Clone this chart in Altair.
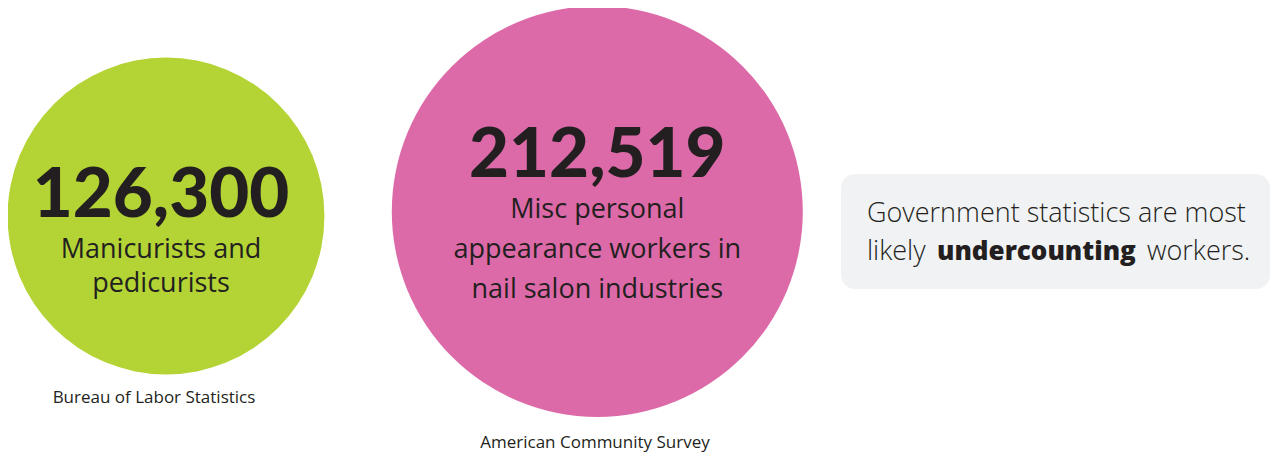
import altair as alt
import pandas as pd

# ---- data ----
sources = ["Bureau of Labor Statistics", "American Community Survey"]
values = [126300, 212519]
descriptions = [
    ["Manicurists and", "pedicurists"],
    ["Misc personal", "appearance workers in", "nail salon industries"],
]
note_line1 = "Government statistics are most"
note_line2 = ["likely", "undercounting", "workers."]

# ---- layout / styles (page pixel coordinates) ----
colors = ["#b4d334", "#dd6aa8"]
ink = "#231f20"
cx = [166.0, 597.3]
cy = [216.0, 211.5]
text_x = [161.0, 597.3]
num_base = [217, 177]
desc_base = [[258, 292], [218, 258, 298]]
desc_size = [27, 27]
src_base = [403, 448]
src_x = [154, 595]
max_radius = 205.5
W, H = 1263, 448

xs = alt.Scale(domain=[8, 8 + W], range=[0, W], nice=False, zero=False)
ys = alt.Scale(domain=[8, 8 + H], range=[0, H], nice=False, zero=False)

circles = pd.DataFrame({"source": sources, "value": values, "cx": cx, "cy": cy})
nums = pd.DataFrame({"source": sources, "value": values, "cx": text_x, "y": num_base})
desc_rows = []
for i, lines in enumerate(descriptions):
    for j, t in enumerate(lines):
        desc_rows.append({"text": t, "cx": text_x[i], "y": desc_base[i][j], "fs": desc_size[i]})
desc = pd.DataFrame(desc_rows)
srcs = pd.DataFrame({"source": sources, "x": src_x, "y": src_base})

# Vega circle symbol: radius = sqrt(size) / 2, so area-proportional size range ends at (2r)^2
circle_layer = alt.Chart(circles).mark_circle(opacity=1).encode(
    x=alt.X("cx:Q", scale=xs, axis=None),
    y=alt.Y("cy:Q", scale=ys, axis=None),
    size=alt.Size("value:Q", scale=alt.Scale(type="linear", domain=[0, max(values)],
                                              range=[0, (2 * max_radius) ** 2]), legend=None),
    color=alt.Color("source:N", scale=alt.Scale(domain=sources, range=colors), legend=None),
)

num_layer = alt.Chart(nums).mark_text(
    font="Lato", fontWeight=900, fontSize=69, color=ink, align="center", baseline="alphabetic"
).encode(
    x=alt.X("cx:Q", scale=xs, axis=None),
    y=alt.Y("y:Q", scale=ys, axis=None),
    text=alt.Text("value:Q", format=","),
)

desc_layer = alt.Chart(desc).mark_text(
    font="Open Sans", fontWeight=500, color=ink, align="center", baseline="alphabetic"
).encode(
    x=alt.X("cx:Q", scale=xs, axis=None),
    y=alt.Y("y:Q", scale=ys, axis=None),
    text="text:N",
    size=alt.Size("fs:Q", scale=None, legend=None),
)

src_layer = alt.Chart(srcs).mark_text(
    font="Open Sans", fontWeight=400, fontSize=17, color=ink, align="center", baseline="alphabetic"
).encode(
    x=alt.X("x:Q", scale=xs, axis=None),
    y=alt.Y("y:Q", scale=ys, axis=None),
    text="source:N",
)

box = pd.DataFrame({"x0": [841], "x1": [1270], "y0": [174], "y1": [289]})
box_layer = alt.Chart(box).mark_rect(color="#f1f2f4", cornerRadius=14).encode(
    x=alt.X("x0:Q", scale=xs, axis=None), x2="x1:Q",
    y=alt.Y("y0:Q", scale=ys, axis=None), y2="y1:Q",
)

note_plain = pd.DataFrame({
    "text": [note_line1, note_line2[0], note_line2[2]],
    "x": [867, 867, 1147],
    "y": [222, 260, 260],
})
note_bold = pd.DataFrame({"text": [note_line2[1]], "x": [937], "y": [260]})

note_layer = alt.Chart(note_plain).mark_text(
    font="Open Sans", fontSize=27, fontWeight=300, color=ink, align="left", baseline="alphabetic"
).encode(
    x=alt.X("x:Q", scale=xs, axis=None),
    y=alt.Y("y:Q", scale=ys, axis=None),
    text="text:N",
)
note_bold_layer = alt.Chart(note_bold).mark_text(
    font="Open Sans", fontSize=26, fontWeight=800, color=ink, align="left", baseline="alphabetic"
).encode(
    x=alt.X("x:Q", scale=xs, axis=None),
    y=alt.Y("y:Q", scale=ys, axis=None),
    text="text:N",
)

chart = alt.layer(circle_layer, num_layer, desc_layer, src_layer, box_layer,
                  note_layer, note_bold_layer).properties(
    width=W, height=H, padding=0, autosize=alt.AutoSizeParams(type="none"),
    background="white",
).configure_view(stroke=None)

chart.save("out.html", embed_options={"renderer": "svg", "actions": False})
